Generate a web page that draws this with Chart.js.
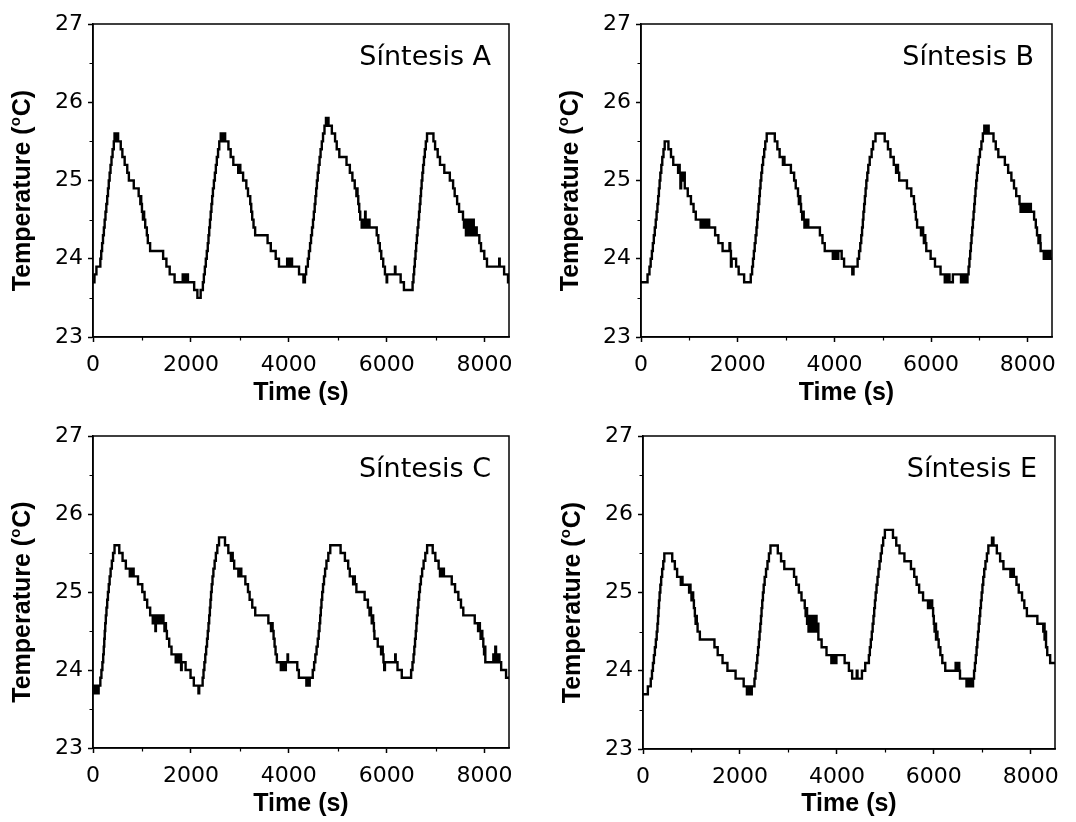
<!DOCTYPE html>
<html><head><meta charset="utf-8">
<script src="https://cdn.jsdelivr.net/npm/chart.js@4.4.1/dist/chart.umd.min.js"></script>
<style>
html,body{margin:0;padding:0;background:#fff;width:1076px;height:822px;overflow:hidden}
.panel{position:absolute}
canvas{display:block}
</style></head><body>
<div class="panel" style="left:0;top:0"><canvas id="cA" width="535" height="411"></canvas></div>
<div class="panel" style="left:535px;top:0"><canvas id="cB" width="541" height="411"></canvas></div>
<div class="panel" style="left:0;top:411px"><canvas id="cC" width="535" height="411"></canvas></div>
<div class="panel" style="left:535px;top:411px"><canvas id="cE" width="541" height="411"></canvas></div>
<script>
// ---- data: [time (s), temperature (°C)] change points ----
const panelLabels = ['Síntesis A','Síntesis B','Síntesis C','Síntesis E'];
const xTitle = 'Time (s)';
const yTitleParts = ['Temperature (', 'o', 'C)'];
const xMajorTicks = [0,2000,4000,6000,8000];
const yMajorTicks = [23,24,25,26,27];
const xMinorTicks = [1000,3000,5000,7000];
const yMinorTicks = [23.5,24.5,25.5,26.5];

const dataA = [[0,23.7],[30,23.8],[70,23.9],[150,24.0],[168,24.1],[186,24.2],[204,24.3],[222,24.4],[238,24.5],[255,24.6],[272,24.7],[290,24.8],[306,24.9],[322,25.0],[340,25.1],[358,25.2],[378,25.3],[400,25.4],[425,25.5],[440,25.6],[460,25.5],[475,25.6],[490,25.5],[500,25.6],[513,25.5],[567,25.4],[600,25.3],[647,25.2],[700,25.1],[733,25.0],[833,24.9],[933,24.8],[967,24.7],[975,24.8],[985,24.7],[1000,24.6],[1020,24.5],[1035,24.6],[1045,24.5],[1067,24.4],[1100,24.3],[1120,24.2],[1167,24.1],[1433,24.0],[1500,23.9],[1567,23.8],[1667,23.7],[1833,23.8],[1850,23.7],[1870,23.8],[1890,23.7],[1910,23.8],[1940,23.7],[2067,23.6],[2133,23.5],[2200,23.6],[2245,23.7],[2265,23.8],[2285,23.9],[2305,24.0],[2325,24.1],[2345,24.2],[2360,24.3],[2375,24.4],[2390,24.5],[2405,24.6],[2420,24.7],[2435,24.8],[2450,24.9],[2470,25.0],[2490,25.1],[2510,25.2],[2530,25.3],[2555,25.4],[2580,25.5],[2610,25.6],[2630,25.5],[2645,25.6],[2665,25.5],[2680,25.6],[2700,25.5],[2767,25.4],[2813,25.3],[2867,25.2],[2967,25.1],[2990,25.2],[3010,25.1],[3067,25.0],[3133,24.9],[3167,24.8],[3213,24.7],[3233,24.6],[3253,24.5],[3280,24.4],[3313,24.3],[3567,24.2],[3633,24.1],[3733,24.0],[3800,23.9],[3967,24.0],[3985,23.9],[4000,24.0],[4020,23.9],[4040,24.0],[4067,23.9],[4210,23.8],[4300,23.7],[4330,23.8],[4355,23.9],[4390,24.0],[4412,24.1],[4435,24.2],[4455,24.3],[4475,24.4],[4495,24.5],[4512,24.6],[4530,24.7],[4545,24.8],[4560,24.9],[4575,25.0],[4592,25.1],[4610,25.2],[4630,25.3],[4650,25.4],[4675,25.5],[4700,25.6],[4730,25.7],[4760,25.8],[4775,25.7],[4790,25.8],[4812,25.7],[4880,25.6],[4946,25.5],[4980,25.4],[5033,25.3],[5180,25.2],[5248,25.1],[5300,25.0],[5348,24.9],[5382,24.8],[5395,24.9],[5405,24.8],[5420,24.7],[5440,24.6],[5460,24.5],[5490,24.4],[5510,24.5],[5530,24.4],[5560,24.6],[5570,24.4],[5590,24.5],[5610,24.4],[5630,24.5],[5650,24.4],[5797,24.3],[5830,24.2],[5860,24.1],[5890,24.0],[5930,23.9],[5965,23.8],[6000,23.7],[6010,23.8],[6170,23.9],[6180,23.8],[6286,23.7],[6353,23.6],[6530,23.7],[6548,23.8],[6562,23.9],[6576,24.0],[6590,24.1],[6603,24.2],[6618,24.3],[6632,24.4],[6648,24.5],[6662,24.6],[6676,24.7],[6690,24.8],[6702,24.9],[6715,25.0],[6730,25.1],[6745,25.2],[6762,25.3],[6780,25.4],[6800,25.5],[6825,25.6],[6956,25.5],[6990,25.4],[7043,25.3],[7090,25.2],[7178,25.1],[7291,25.0],[7358,24.9],[7390,24.8],[7440,24.7],[7480,24.6],[7560,24.5],[7580,24.4],[7600,24.5],[7620,24.3],[7640,24.5],[7660,24.4],[7680,24.3],[7700,24.5],[7720,24.4],[7740,24.3],[7760,24.5],[7780,24.4],[7800,24.3],[7820,24.4],[7840,24.3],[7894,24.2],[7928,24.1],[7995,24.0],[8050,23.9],[8300,24.0],[8310,23.9],[8400,23.8],[8480,23.7],[8500,23.7]];

const dataB = [[0,23.7],[135,23.8],[175,23.9],[200,24.0],[225,24.1],[245,24.2],[265,24.3],[285,24.4],[305,24.5],[322,24.6],[340,24.7],[355,24.8],[370,24.9],[385,25.0],[400,25.1],[420,25.2],[440,25.3],[465,25.4],[490,25.5],[567,25.4],[620,25.3],[667,25.2],[767,25.1],[785,25.2],[800,25.1],[815,24.9],[830,25.1],[845,25.0],[860,25.1],[875,25.0],[890,25.1],[905,24.9],[967,24.8],[1033,24.7],[1087,24.6],[1133,24.5],[1233,24.4],[1260,24.5],[1290,24.4],[1320,24.5],[1350,24.4],[1380,24.5],[1410,24.4],[1533,24.3],[1600,24.2],[1687,24.1],[1830,24.2],[1845,24.1],[1860,23.9],[1875,24.0],[1967,23.9],[2020,23.8],[2133,23.7],[2270,23.8],[2298,23.9],[2316,24.0],[2334,24.1],[2352,24.2],[2370,24.3],[2388,24.4],[2402,24.5],[2416,24.6],[2430,24.7],[2445,24.8],[2458,24.9],[2472,25.0],[2488,25.1],[2505,25.2],[2525,25.3],[2548,25.4],[2570,25.5],[2600,25.6],[2767,25.5],[2820,25.4],[2867,25.3],[2935,25.2],[2950,25.3],[2967,25.2],[3100,25.1],[3167,25.0],[3200,24.9],[3247,24.8],[3265,24.7],[3280,24.8],[3295,24.7],[3310,24.6],[3333,24.5],[3350,24.6],[3365,24.5],[3380,24.4],[3400,24.5],[3420,24.4],[3440,24.5],[3460,24.4],[3700,24.3],[3753,24.2],[3800,24.1],[3967,24.0],[3990,24.1],[4010,24.0],[4035,24.1],[4055,24.0],[4080,24.1],[4150,24.0],[4200,23.9],[4370,23.8],[4395,23.9],[4480,24.0],[4510,24.1],[4535,24.2],[4555,24.3],[4572,24.4],[4588,24.5],[4600,24.6],[4615,24.7],[4630,24.8],[4645,24.9],[4660,25.0],[4680,25.1],[4700,25.2],[4730,25.3],[4770,25.4],[4800,25.5],[4850,25.6],[5040,25.5],[5107,25.4],[5160,25.3],[5227,25.2],[5275,25.1],[5300,25.2],[5315,25.1],[5340,25.0],[5500,24.9],[5590,24.8],[5645,24.7],[5665,24.6],[5685,24.5],[5710,24.4],[5790,24.3],[5820,24.4],[5835,24.3],[5850,24.2],[5870,24.3],[5880,24.2],[5900,24.1],[5990,24.0],[6080,23.9],[6195,23.8],[6282,23.7],[6310,23.8],[6330,23.7],[6360,23.8],[6380,23.7],[6450,23.8],[6618,23.7],[6640,23.8],[6665,23.7],[6690,23.8],[6710,23.7],[6752,23.8],[6775,23.9],[6792,24.0],[6808,24.1],[6822,24.2],[6836,24.3],[6850,24.4],[6864,24.5],[6878,24.6],[6892,24.7],[6905,24.8],[6918,24.9],[6932,25.0],[6948,25.1],[6965,25.2],[6985,25.3],[7010,25.4],[7040,25.5],[7070,25.6],[7100,25.7],[7125,25.6],[7140,25.7],[7160,25.6],[7175,25.7],[7190,25.6],[7290,25.5],[7337,25.4],[7390,25.3],[7525,25.2],[7593,25.1],[7660,25.0],[7714,24.9],[7760,24.8],[7828,24.7],[7850,24.6],[7870,24.7],[7900,24.6],[7920,24.7],[7950,24.6],[7970,24.7],[8000,24.6],[8030,24.7],[8063,24.6],[8130,24.5],[8165,24.4],[8190,24.3],[8220,24.2],[8240,24.3],[8255,24.2],[8265,24.1],[8330,24.0],[8350,24.1],[8370,24.0],[8400,24.1],[8420,24.0],[8450,24.1],[8470,24.0],[8500,24.0]];

const dataC = [[0,23.7],[15,23.8],[30,23.7],[45,23.8],[60,23.7],[80,23.8],[95,23.7],[115,23.8],[150,23.9],[172,24.0],[192,24.1],[208,24.2],[220,24.3],[230,24.4],[240,24.5],[250,24.6],[262,24.7],[275,24.8],[290,24.9],[305,25.0],[322,25.1],[340,25.2],[360,25.3],[385,25.4],[410,25.5],[440,25.6],[537,25.5],[604,25.4],[671,25.3],[752,25.2],[770,25.3],[790,25.2],[810,25.3],[830,25.2],[920,25.1],[1007,25.0],[1054,24.9],[1107,24.8],[1168,24.7],[1221,24.6],[1240,24.7],[1260,24.6],[1275,24.5],[1285,24.7],[1310,24.6],[1330,24.7],[1350,24.6],[1375,24.7],[1400,24.6],[1420,24.7],[1440,24.6],[1460,24.5],[1475,24.6],[1490,24.5],[1510,24.4],[1557,24.3],[1604,24.2],[1690,24.1],[1710,24.2],[1730,24.1],[1750,24.2],[1770,24.1],[1790,24.2],[1800,24.0],[1812,24.1],[1892,24.0],[1993,23.9],[2060,23.8],[2155,23.7],[2170,23.8],[2240,23.9],[2258,24.0],[2276,24.1],[2294,24.2],[2312,24.3],[2330,24.4],[2345,24.5],[2360,24.6],[2374,24.7],[2388,24.8],[2400,24.9],[2412,25.0],[2426,25.1],[2442,25.2],[2460,25.3],[2485,25.4],[2510,25.5],[2540,25.6],[2575,25.7],[2697,25.6],[2765,25.5],[2818,25.4],[2840,25.5],[2855,25.4],[2885,25.3],[2970,25.2],[2985,25.3],[3000,25.2],[3015,25.3],[3030,25.2],[3113,25.1],[3167,25.0],[3200,24.9],[3254,24.8],[3315,24.7],[3583,24.6],[3637,24.5],[3655,24.6],[3670,24.5],[3690,24.4],[3710,24.3],[3730,24.2],[3757,24.1],[3838,24.0],[3860,24.1],[3880,24.0],[3900,24.1],[3920,24.0],[3940,24.1],[3975,24.2],[3985,24.1],[4174,24.0],[4206,23.9],[4360,23.8],[4380,23.9],[4395,23.8],[4428,23.9],[4490,24.0],[4518,24.1],[4543,24.2],[4568,24.3],[4592,24.4],[4612,24.5],[4628,24.6],[4642,24.7],[4655,24.8],[4668,24.9],[4683,25.0],[4700,25.1],[4720,25.2],[4742,25.3],[4770,25.4],[4808,25.5],[4848,25.6],[5059,25.5],[5147,25.4],[5214,25.3],[5247,25.2],[5315,25.1],[5335,25.2],[5350,25.1],[5382,25.0],[5550,24.9],[5617,24.8],[5650,24.7],[5668,24.8],[5680,24.7],[5695,24.6],[5710,24.7],[5725,24.6],[5740,24.5],[5750,24.4],[5818,24.3],[5886,24.2],[5905,24.3],[5920,24.2],[5935,24.1],[5950,24.0],[5965,24.1],[6175,24.2],[6185,24.1],[6222,24.0],[6309,23.9],[6500,24.0],[6528,24.1],[6550,24.2],[6565,24.3],[6580,24.4],[6595,24.5],[6608,24.6],[6620,24.7],[6634,24.8],[6648,24.9],[6663,25.0],[6680,25.1],[6700,25.2],[6725,25.3],[6755,25.4],[6790,25.5],[6827,25.6],[6941,25.5],[6995,25.4],[7062,25.3],[7090,25.2],[7110,25.3],[7130,25.2],[7150,25.3],[7170,25.2],[7330,25.1],[7398,25.0],[7465,24.9],[7519,24.8],[7566,24.7],[7800,24.6],[7868,24.5],[7890,24.6],[7905,24.5],[7920,24.4],[7940,24.5],[7955,24.4],[7975,24.3],[7990,24.2],[8005,24.3],[8016,24.1],[8180,24.2],[8200,24.1],[8220,24.3],[8235,24.1],[8250,24.2],[8270,24.1],[8290,24.2],[8305,24.1],[8340,24.0],[8440,23.9],[8500,23.9]];

const dataE = [[0,23.7],[100,23.8],[160,23.9],[185,24.0],[205,24.1],[225,24.2],[245,24.3],[265,24.4],[283,24.5],[298,24.6],[310,24.7],[320,24.8],[330,24.9],[343,25.0],[358,25.1],[375,25.2],[395,25.3],[418,25.4],[440,25.5],[603,25.4],[657,25.3],[704,25.2],[780,25.1],[795,25.2],[815,25.1],[951,25.0],[965,25.1],[980,25.0],[1000,24.9],[1020,25.0],[1035,24.9],[1050,24.8],[1070,24.7],[1085,24.6],[1100,24.7],[1110,24.6],[1126,24.5],[1173,24.4],[1474,24.3],[1541,24.2],[1641,24.1],[1742,24.0],[1910,23.9],[2077,23.8],[2144,23.7],[2165,23.8],[2185,23.7],[2205,23.8],[2225,23.7],[2244,23.8],[2300,23.9],[2320,24.0],[2340,24.1],[2358,24.2],[2374,24.3],[2390,24.4],[2405,24.5],[2420,24.6],[2434,24.7],[2446,24.8],[2460,24.9],[2474,25.0],[2490,25.1],[2510,25.2],[2538,25.3],[2568,25.4],[2598,25.5],[2630,25.6],[2781,25.5],[2848,25.4],[2915,25.3],[3116,25.2],[3162,25.1],[3216,25.0],[3270,24.9],[3337,24.8],[3355,24.7],[3370,24.8],[3385,24.6],[3400,24.7],[3415,24.5],[3430,24.7],[3445,24.6],[3460,24.5],[3475,24.7],[3490,24.5],[3505,24.6],[3520,24.7],[3535,24.5],[3550,24.6],[3565,24.7],[3580,24.5],[3600,24.6],[3618,24.4],[3685,24.3],[3786,24.2],[3886,24.1],[3905,24.2],[3925,24.1],[3945,24.2],[3965,24.1],[3990,24.2],[4160,24.1],[4248,24.0],[4315,23.9],[4410,24.0],[4425,23.9],[4517,24.0],[4585,24.1],[4660,24.2],[4680,24.3],[4700,24.4],[4720,24.5],[4738,24.6],[4755,24.7],[4770,24.8],[4785,24.9],[4800,25.0],[4818,25.1],[4838,25.2],[4858,25.3],[4880,25.4],[4905,25.5],[4928,25.6],[4955,25.7],[4990,25.8],[5157,25.7],[5225,25.6],[5292,25.5],[5393,25.4],[5528,25.3],[5596,25.2],[5645,25.1],[5697,25.0],[5778,24.9],[5880,24.8],[5895,24.9],[5915,24.8],[5935,24.9],[5966,24.8],[5985,24.7],[6000,24.6],[6015,24.5],[6030,24.6],[6045,24.4],[6060,24.5],[6075,24.4],[6100,24.3],[6135,24.2],[6175,24.1],[6236,24.0],[6450,24.1],[6480,24.0],[6500,24.1],[6525,24.0],[6540,23.9],[6674,23.8],[6700,23.9],[6720,23.8],[6745,23.9],[6770,23.8],[6809,23.9],[6830,24.0],[6848,24.1],[6866,24.2],[6882,24.3],[6897,24.4],[6912,24.5],[6927,24.6],[6942,24.7],[6957,24.8],[6972,24.9],[6987,25.0],[7003,25.1],[7020,25.2],[7040,25.3],[7065,25.4],[7095,25.5],[7125,25.6],[7200,25.7],[7230,25.6],[7300,25.5],[7368,25.4],[7436,25.3],[7580,25.2],[7600,25.3],[7620,25.2],[7635,25.3],[7651,25.2],[7705,25.1],[7752,25.0],[7820,24.9],[7867,24.8],[7920,24.7],[8136,24.6],[8258,24.5],[8270,24.6],[8285,24.4],[8300,24.5],[8315,24.3],[8340,24.2],[8400,24.1],[8500,24.1]];

// ---- layout (pixel geometry of each panel) ----
const panels = [
  {id:'cA', data:dataA, label:panelLabels[0], W:535, H:411, left:93,  top:24, right:509, bottom:337},
  {id:'cB', data:dataB, label:panelLabels[1], W:541, H:411, left:106, top:24, right:517, bottom:337},
  {id:'cC', data:dataC, label:panelLabels[2], W:535, H:411, left:93,  top:25, right:509, bottom:337},
  {id:'cE', data:dataE, label:panelLabels[3], W:541, H:411, left:108, top:25, right:520, bottom:338}
];

const TICK_FONT = {family:'"DejaVu Sans", sans-serif', size:22, weight:'normal'};
const TITLE_FONT = {family:'"Liberation Sans", Arial, sans-serif', size:25, weight:'bold'};

const decor = {
  id:'decor',
  afterDraw(chart, args, opts){
    const {ctx, chartArea:a} = chart;
    const xs = chart.scales.x, ys = chart.scales.y;
    ctx.save();
    ctx.strokeStyle = '#000';
    ctx.lineWidth = 1.5;
    ctx.strokeRect(a.left, a.top, a.right - a.left, a.bottom - a.top);
    ctx.lineWidth = 1.2;
    ctx.beginPath();
    for (const v of xMinorTicks){
      const px = Math.round(xs.getPixelForValue(v)) + 0.5;
      ctx.moveTo(px, a.bottom); ctx.lineTo(px, a.bottom + 3.5);
    }
    for (const v of yMinorTicks){
      const py = Math.round(ys.getPixelForValue(v)) + 0.5;
      ctx.moveTo(a.left - 3.5, py); ctx.lineTo(a.left, py);
    }
    ctx.stroke();
    ctx.fillStyle = '#000';
    ctx.font = '27px "DejaVu Sans", sans-serif';
    ctx.textAlign = 'right';
    ctx.textBaseline = 'alphabetic';
    ctx.fillText(opts.label, a.right - 18, a.top + 41);
    const big = 'bold 25px "Liberation Sans", Arial, sans-serif';
    const small = 'bold 15px "Liberation Sans", Arial, sans-serif';
    ctx.font = big; const w1 = ctx.measureText(yTitleParts[0]).width;
    const w3 = ctx.measureText(yTitleParts[2]).width;
    ctx.font = small; const w2 = ctx.measureText(yTitleParts[1]).width + 1;
    const total = w1 + w2 + w3;
    ctx.translate(a.left - 70, (a.top + a.bottom) / 2 + 10);
    ctx.rotate(-Math.PI / 2);
    ctx.textAlign = 'left';
    ctx.textBaseline = 'middle';
    const s = -total / 2;
    ctx.font = big; ctx.fillText(yTitleParts[0], s, 0);
    ctx.font = small; ctx.fillText(yTitleParts[1], s + w1, -7);
    ctx.font = big; ctx.fillText(yTitleParts[2], s + w1 + w2, 0);
    ctx.restore();
  }
};

for (const p of panels){
  new Chart(document.getElementById(p.id), {
    type:'line',
    data:{datasets:[{
      data:p.data.map(d => ({x:d[0], y:d[1]})),
      borderColor:'#000', borderWidth:2.4, pointRadius:0, stepped:true,
      fill:false, tension:0, borderJoinStyle:'miter'
    }]},
    options:{
      responsive:false, animation:false, devicePixelRatio:1,
      layout:{padding:{left:0, top:p.top, right:p.W - p.right, bottom:0}},
      plugins:{legend:{display:false}, tooltip:{enabled:false}, title:{display:false}, decor:{label:p.label}},
      scales:{
        x:{type:'linear', min:0, max:8500,
          afterBuildTicks(scale){ scale.ticks = xMajorTicks.map(v => ({value:v})); },
          ticks:{autoSkip:false, maxRotation:0, minRotation:0, color:'#000', font:TICK_FONT, padding:10,
                 callback:(v) => String(v)},
          grid:{drawOnChartArea:false, drawTicks:true, tickLength:5, tickColor:'#000', tickWidth:1.5},
          border:{display:true, color:'#000', width:1.5},
          title:{display:true, text:xTitle, color:'#000', font:TITLE_FONT, padding:{top:0, bottom:3}},
          afterFit(scale){ scale.height = p.H - p.bottom; }
        },
        y:{type:'linear', min:23, max:27,
          afterBuildTicks(scale){ scale.ticks = yMajorTicks.map(v => ({value:v})); },
          ticks:{color:'#000', font:TICK_FONT, padding:5, callback:(v) => String(v)},
          grid:{drawOnChartArea:false, drawTicks:true, tickLength:5, tickColor:'#000', tickWidth:1.5},
          border:{display:true, color:'#000', width:1.5},
          title:{display:false},
          afterFit(scale){ scale.width = p.left; }
        }
      }
    },
    plugins:[decor]
  });
}
</script>
</body></html>
